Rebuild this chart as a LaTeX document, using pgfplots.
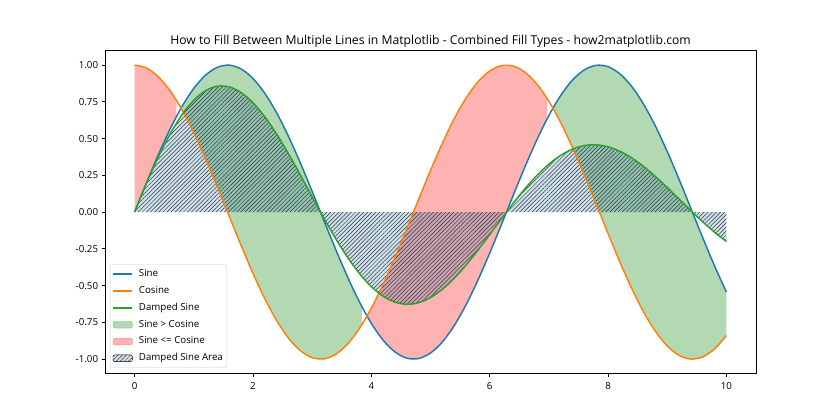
\documentclass[border=0pt]{standalone}
\usepackage{pgfplots}
\pgfplotsset{compat=1.18}
\usepackage{pgfplotstable}
\usepgfplotslibrary{fillbetween}
\usetikzlibrary{patterns.meta}
\usepackage{fontspec}
\setmainfont{Open Sans}

\definecolor{c0}{HTML}{1F77B4}
\definecolor{c1}{HTML}{FF7F0E}
\definecolor{c2}{HTML}{2CA02C}
\definecolor{mgreen}{HTML}{008000}
\definecolor{mred}{HTML}{FF0000}
\definecolor{dblue}{RGB}{206,222,236}

\pgfplotstableread{
x s c d
0.0 0.0000 1.0000 0.0000
0.2 0.1987 0.9801 0.1948
0.4 0.3894 0.9211 0.3741
0.6 0.5646 0.8253 0.5317
0.8 0.7174 0.6967 0.6622
1.0 0.8415 0.5403 0.7614
1.2 0.9320 0.3624 0.8266
1.4 0.9854 0.1700 0.8567
1.6 0.9996 -0.0292 0.8518
1.8 0.9738 -0.2272 0.8134
2.0 0.9093 -0.4161 0.7445
2.2 0.8085 -0.5885 0.6488
2.4 0.6755 -0.7374 0.5314
2.6 0.5155 -0.8569 0.3975
2.8 0.3350 -0.9422 0.2532
3.0 0.1411 -0.9900 0.1045
3.2 -0.0584 -0.9983 -0.0424
3.4 -0.2555 -0.9668 -0.1819
3.6 -0.4425 -0.8968 -0.3087
3.8 -0.6119 -0.7910 -0.4185
4.0 -0.7568 -0.6536 -0.5073
4.2 -0.8716 -0.4903 -0.5727
4.4 -0.9516 -0.3073 -0.6129
4.6 -0.9937 -0.1122 -0.6273
4.8 -0.9962 0.0875 -0.6164
5.0 -0.9589 0.2837 -0.5816
5.2 -0.8835 0.4685 -0.5253
5.4 -0.7728 0.6347 -0.4503
5.6 -0.6313 0.7756 -0.3606
5.8 -0.4646 0.8855 -0.2601
6.0 -0.2794 0.9602 -0.1533
6.2 -0.0831 0.9965 -0.0447
6.4 0.1165 0.9932 0.0614
6.6 0.3115 0.9502 0.1610
6.8 0.4941 0.8694 0.2503
7.0 0.6570 0.7539 0.3263
7.2 0.7937 0.6084 0.3863
7.4 0.8987 0.4385 0.4288
7.6 0.9679 0.2513 0.4527
7.8 0.9985 0.0540 0.4577
8.0 0.9894 -0.1455 0.4446
8.2 0.9407 -0.3392 0.4143
8.4 0.8546 -0.5193 0.3689
8.6 0.7344 -0.6787 0.3108
8.8 0.5849 -0.8111 0.2426
9.0 0.4121 -0.9111 0.1675
9.2 0.2229 -0.9748 0.0888
9.4 0.0248 -0.9997 0.0097
9.6 -0.1743 -0.9847 -0.0667
9.8 -0.3665 -0.9304 -0.1376
10.0 -0.5440 -0.8391 -0.2001
}\main

% fill segments (sine <= cosine: red ; sine > cosine: green)
\pgfplotstableread{
x s c
0.0 0.0000 1.0000
0.2 0.1987 0.9801
0.4 0.3894 0.9211
0.6 0.5646 0.8253
0.7071 0.6496 0.7602
}\segA
\pgfplotstableread{
x s c
0.8081 0.7230 0.6909
1.0 0.8415 0.5403
1.2 0.9320 0.3624
1.4 0.9854 0.1700
1.6 0.9996 -0.0292
1.8 0.9738 -0.2272
2.0 0.9093 -0.4161
2.2 0.8085 -0.5885
2.4 0.6755 -0.7374
2.6 0.5155 -0.8569
2.8 0.3350 -0.9422
3.0 0.1411 -0.9900
3.2 -0.0584 -0.9983
3.4 -0.2555 -0.9668
3.6 -0.4425 -0.8968
3.8 -0.6119 -0.7910
3.8384 -0.6418 -0.7669
}\segB
\pgfplotstableread{
x s c
3.9394 -0.7158 -0.6983
4.0 -0.7568 -0.6536
4.2 -0.8716 -0.4903
4.4 -0.9516 -0.3073
4.6 -0.9937 -0.1122
4.8 -0.9962 0.0875
5.0 -0.9589 0.2837
5.2 -0.8835 0.4685
5.4 -0.7728 0.6347
5.6 -0.6313 0.7756
5.8 -0.4646 0.8855
6.0 -0.2794 0.9602
6.2 -0.0831 0.9965
6.4 0.1165 0.9932
6.6 0.3115 0.9502
6.8 0.4941 0.8694
6.9697 0.6338 0.7735
}\segC
\pgfplotstableread{
x s c
7.0707 0.7086 0.7056
7.2 0.7937 0.6084
7.4 0.8987 0.4385
7.6 0.9679 0.2513
7.8 0.9985 0.0540
8.0 0.9894 -0.1455
8.2 0.9407 -0.3392
8.4 0.8546 -0.5193
8.6 0.7344 -0.6787
8.8 0.5849 -0.8111
9.0 0.4121 -0.9111
9.2 0.2229 -0.9748
9.4 0.0248 -0.9997
9.6 -0.1743 -0.9847
9.8 -0.3665 -0.9304
10.0 -0.5440 -0.8391
}\segD

\pgfplotsset{
  myline/.style={legend image code/.code={\draw[##1] (0bp,0bp) -- (19.4bp,0bp);}},
  myarea/.style={legend image code/.code={\draw[##1] (0bp,-3.4bp) rectangle (19.4bp,3.4bp);}},
}

\begin{document}
\begin{tikzpicture}
\begin{axis}[
  at={(0,0)}, anchor=south west,
  scale only axis, width=651bp, height=323.4bp,
  xmin=-0.5, xmax=10.5, ymin=-1.1, ymax=1.1,
  xtick={0,2,4,6,8,10},
  ytick={-1,-0.75,-0.5,-0.25,0,0.25,0.5,0.75,1},
  yticklabel style={/pgf/number format/.cd, fixed, fixed zerofill, precision=2},
  xticklabel style={yshift=-2bp},
  /pgf/number format/assume math mode=true,
  tick align=outside, tick pos=left,
  major tick length=3.4bp,
  every tick/.style={black, line width=0.78bp},
  axis line style={black, line width=0.78bp},
  ticklabel style={font=\fontsize{9.72bp}{11bp}\selectfont},
  title={How to Fill Between Multiple Lines in Matplotlib - Combined Fill Types - how2matplotlib.com},
  title style={font=\fontsize{12.2bp}{14bp}\selectfont, at={(0.5,1)}, anchor=base, inner sep=0pt},
  legend cell align=left,
  legend style={at={(0.0077,0.018)}, anchor=south west, draw=black!20, rounded corners=2bp,
    fill=white, fill opacity=0.8, text opacity=1,
    font=\fontsize{9.72bp}{11bp}\selectfont,
    nodes={inner ysep=2bp, inner xsep=2bp, text height=7bp, text depth=2bp},
    column sep=3.7bp, row sep=3.8bp, inner xsep=2bp, inner ysep=3bp},
]
% paths for fills
\addplot[draw=none, smooth, forget plot, name path=sA] table[x=x,y=s]{\segA};
\addplot[draw=none, smooth, forget plot, name path=cA] table[x=x,y=c]{\segA};
\addplot[draw=none, smooth, forget plot, name path=sB] table[x=x,y=s]{\segB};
\addplot[draw=none, smooth, forget plot, name path=cB] table[x=x,y=c]{\segB};
\addplot[draw=none, smooth, forget plot, name path=sC] table[x=x,y=s]{\segC};
\addplot[draw=none, smooth, forget plot, name path=cC] table[x=x,y=c]{\segC};
\addplot[draw=none, smooth, forget plot, name path=sD] table[x=x,y=s]{\segD};
\addplot[draw=none, smooth, forget plot, name path=cD] table[x=x,y=c]{\segD};
\addplot[draw=none, smooth, forget plot, name path=dd] table[x=x,y=d]{\main};
\addplot[draw=none, forget plot, name path=zz] coordinates {(0,0) (10,0)};

\addplot[fill=mgreen, fill opacity=0.3, draw=none, forget plot] fill between[of=sB and cB];
\addplot[fill=mgreen, fill opacity=0.3, draw=none, forget plot] fill between[of=sD and cD];
\addplot[fill=mred, fill opacity=0.3, draw=none, forget plot] fill between[of=sA and cA];
\addplot[fill=mred, fill opacity=0.3, draw=none, forget plot] fill between[of=sC and cC];
\addplot[fill=c0, fill opacity=0.22, draw=none, forget plot] fill between[of=dd and zz];
\addplot[pattern={Lines[angle=45,distance=2.9bp,line width=0.5bp]}, pattern color=black!80, draw=none, forget plot] fill between[of=dd and zz];

% lines
\addplot[draw=c0, smooth, line width=1.46bp, forget plot] table[x=x,y=s]{\main};
\addplot[draw=c1, smooth, line width=1.46bp, forget plot] table[x=x,y=c]{\main};
\addplot[draw=c2, smooth, line width=1.46bp, forget plot] table[x=x,y=d]{\main};

% legend
\addlegendimage{myline, draw=c0, line width=1.6bp}
\addlegendentry{Sine}
\addlegendimage{myline, draw=c1, line width=1.6bp}
\addlegendentry{Cosine}
\addlegendimage{myline, draw=c2, line width=1.6bp}
\addlegendentry{Damped Sine}
\addlegendimage{myarea, fill=mgreen, fill opacity=0.3, draw=mgreen, draw opacity=0.3}
\addlegendentry{Sine > Cosine}
\addlegendimage{myarea, fill=mred, fill opacity=0.3, draw=mred, draw opacity=0.3}
\addlegendentry{Sine <= Cosine}
\addlegendimage{myarea, draw=none, preaction={fill=dblue}, pattern={Lines[angle=45,distance=2.9bp,line width=0.5bp]}, pattern color=black!80}
\addlegendentry{Damped Sine Area}
\end{axis}
\path (-105bp,-46.2bp) rectangle (735bp,373.8bp);
\end{tikzpicture}
\end{document}
